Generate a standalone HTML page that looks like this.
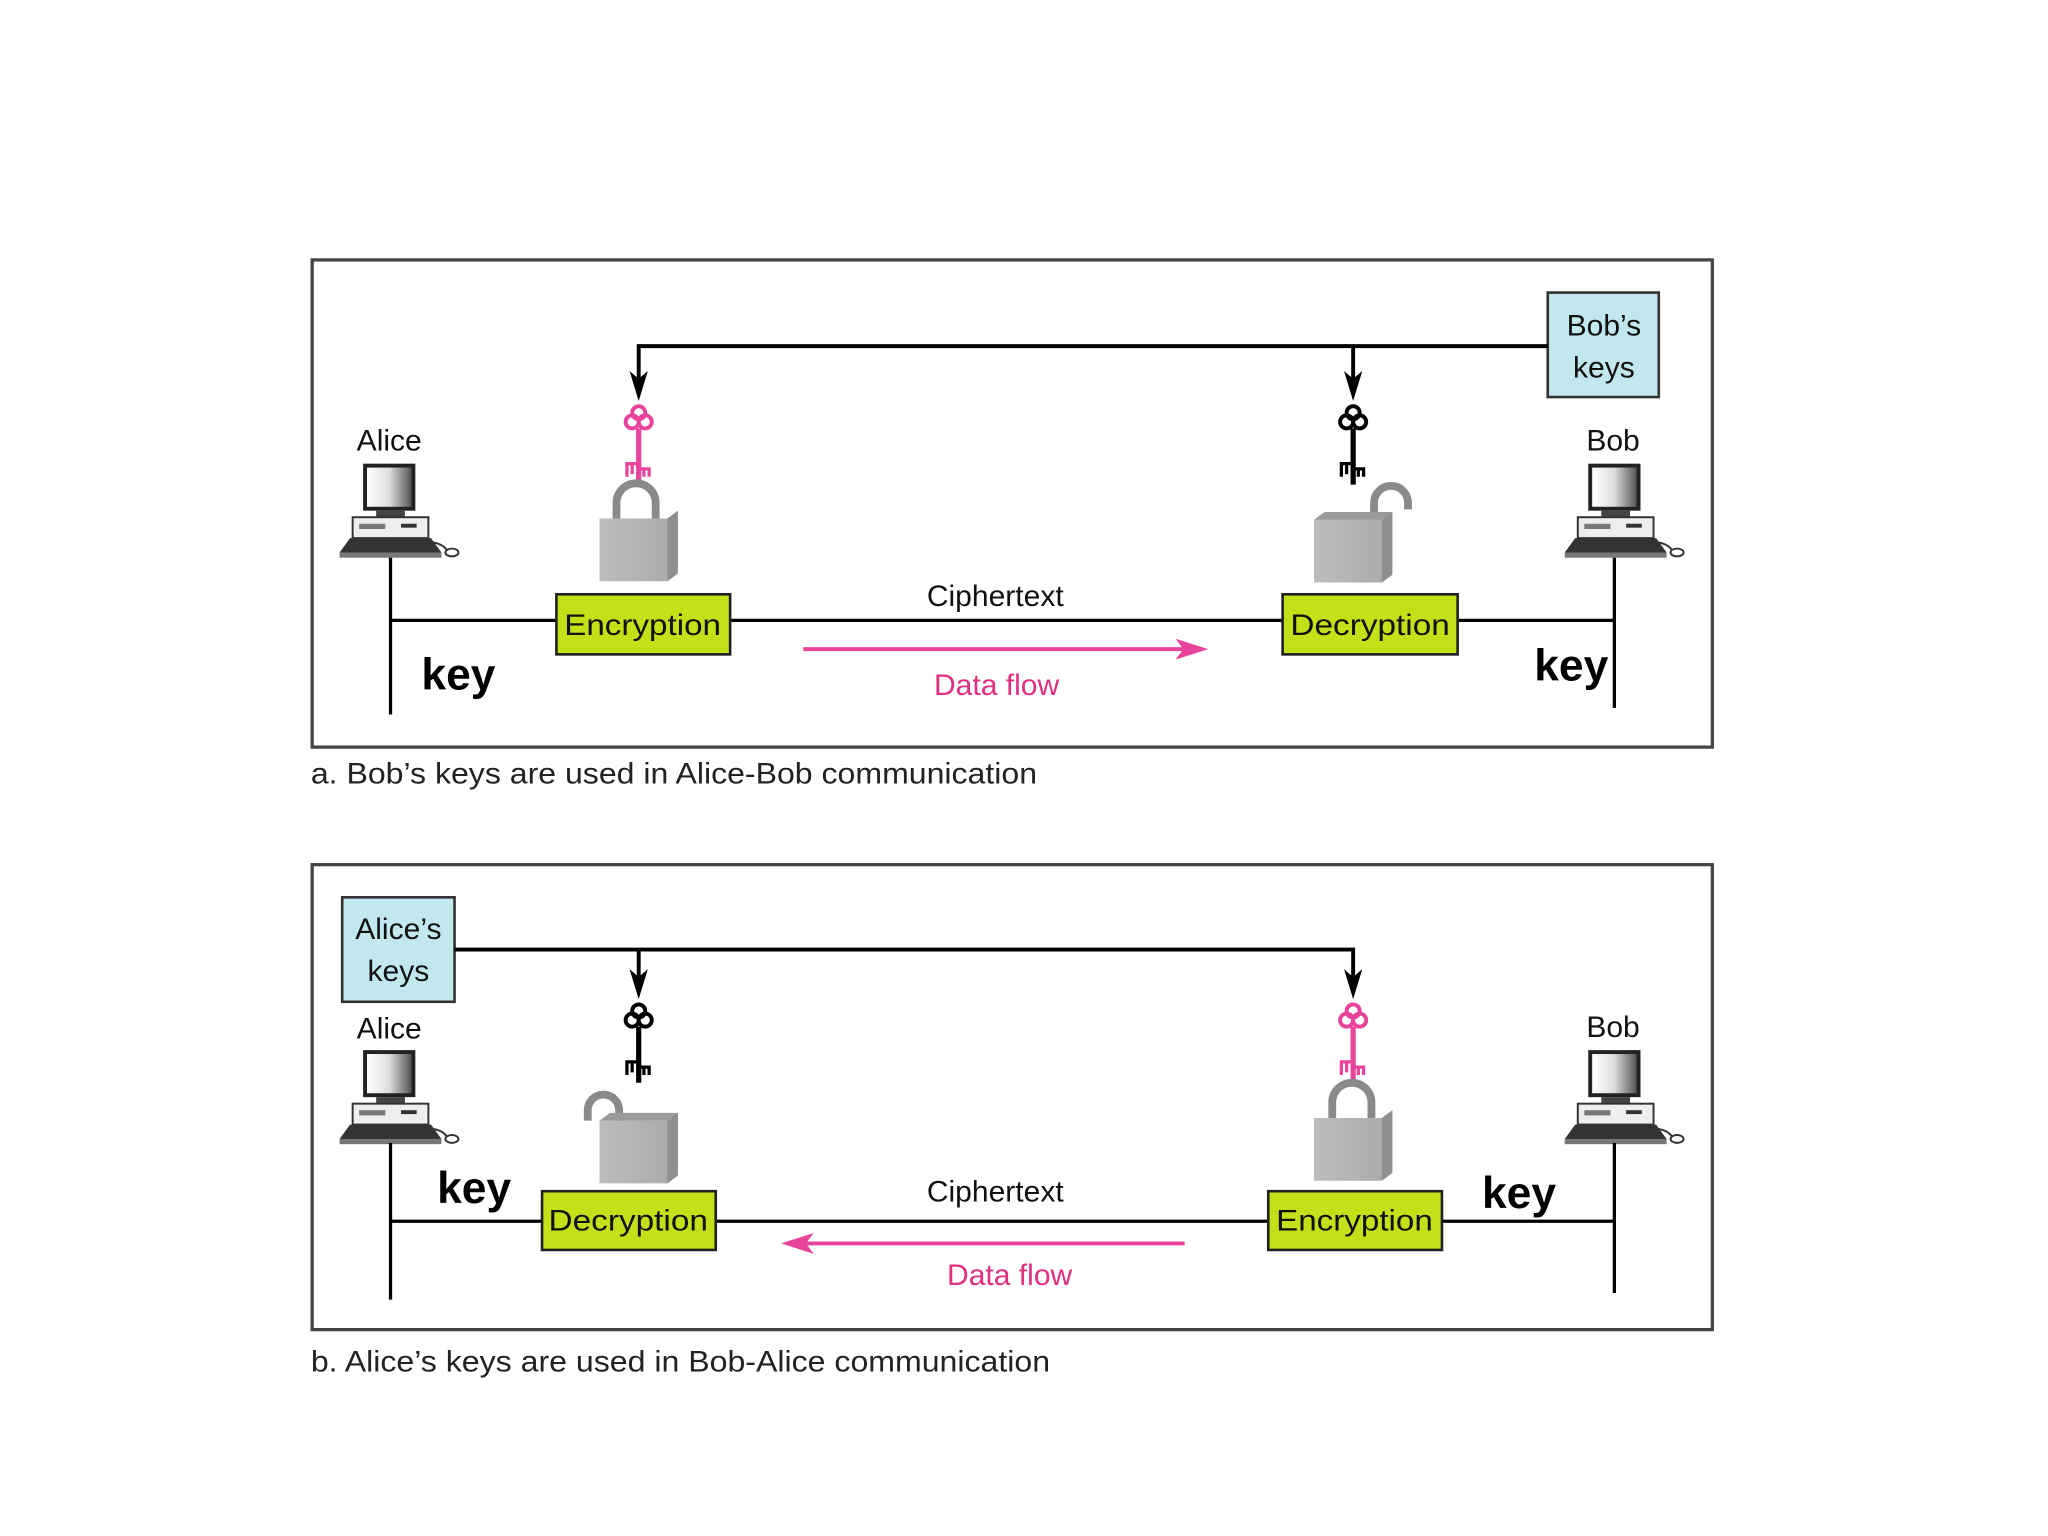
<!DOCTYPE html>
<html><head><meta charset="utf-8"><style>
html,body{margin:0;padding:0;background:#fff;}
svg{display:block;}
text{font-family:"Liberation Sans",sans-serif;}
</style></head><body>
<svg width="2048" height="1536" viewBox="0 0 1568 1176" xmlns="http://www.w3.org/2000/svg">
<defs>
<linearGradient id="scr" x1="0" x2="1" y1="0" y2="0"><stop offset="0" stop-color="#fff"/><stop offset="0.5" stop-color="#ddd"/><stop offset="1" stop-color="#555"/></linearGradient>
<g id="comp">
  <rect x="18" y="0" width="40" height="36" fill="#222"/>
  <rect x="21" y="3" width="34" height="30" fill="url(#scr)"/>
  <rect x="28" y="36" width="22" height="5" fill="#444"/>
  <rect x="10" y="41" width="58" height="16" fill="#eee" stroke="#333" stroke-width="1.5"/>
  <rect x="15" y="46" width="20" height="4" fill="#777"/>
  <rect x="47" y="46" width="12" height="3" fill="#333"/>
  <path d="M8,57 L70,57 L78,68 L0,68 Z" fill="#333"/>
  <rect x="0" y="68" width="78" height="4" fill="#777"/>
  <path d="M66,60 Q78,60 82,66" stroke="#333" fill="none" stroke-width="1.5"/>
  <ellipse cx="86" cy="68" rx="5" ry="3" fill="#fff" stroke="#333" stroke-width="1.5"/>
</g>
<g id="key">
  <circle cx="-5" cy="-20" r="5" fill="none" stroke-width="3"/>
  <circle cx="5" cy="-20" r="5" fill="none" stroke-width="3"/>
  <circle cx="0" cy="-27" r="5" fill="none" stroke-width="3"/>
  <line x1="0" y1="-15" x2="0" y2="28" stroke-width="4"/>
  <path d="M0,12 L-9,12 L-9,22 M-5,12 L-5,20 M0,16 L8,16 L8,22 M4,16 L4,22" fill="none" stroke-width="2.5"/>
</g>
<linearGradient id="lk" x1="0" x2="1"><stop offset="0" stop-color="#bdbdbd"/><stop offset="1" stop-color="#a9a9a9"/></linearGradient>
<g id="box">
  <path d="M-30,0 L22,0 L30,-6 L30,42 L22,48 L-30,48 Z" fill="url(#lk)"/>
  <path d="M22,0 L30,-6 L30,42 L22,48 Z" fill="#8f8f8f"/>
</g>
</defs>

<!-- Panel a -->
<rect x="239" y="199" width="1072" height="373" fill="none" stroke="#444" stroke-width="2.5"/>
<rect x="1185" y="224" width="85" height="80" fill="#c3e7ef" stroke="#333" stroke-width="2"/>
<text x="1228" y="257" font-size="23" text-anchor="middle" fill="#111">Bob’s</text>
<text x="1228" y="289" font-size="23" text-anchor="middle" fill="#111">keys</text>
<path d="M1185,265 L489,265 L489,300" fill="none" stroke="#000" stroke-width="3"/>
<path d="M1036,265 L1036,300" fill="none" stroke="#000" stroke-width="3"/>
<path d="M482,284 L489,307 L496,284 L489,290 Z" fill="#000"/>
<path d="M1029,284 L1036,307 L1043,284 L1036,290 Z" fill="#000"/>
<use href="#key" x="489" y="343" stroke="#e8449b"/>
<use href="#key" x="1036" y="343" stroke="#000"/>
<path d="M472,397 L472,385 A15,15 0 0 1 502,385 L502,397" fill="none" stroke="#8a8a8a" stroke-width="6"/>
<use href="#box" x="489" y="397"/>
<path d="M1052,394 L1052,385 A13,13 0 0 1 1078,385 L1078,390" fill="none" stroke="#8a8a8a" stroke-width="6"/>
<use href="#box" x="1036" y="398"/>
<path d="M1006,398 L1014,392 L1066,392 L1058,398 Z" fill="#9a9a9a"/>
<text x="298" y="345" font-size="23" text-anchor="middle" fill="#111">Alice</text>
<use href="#comp" x="260" y="355"/>
<text x="1235" y="345" font-size="23" text-anchor="middle" fill="#111">Bob</text>
<use href="#comp" x="1198" y="355"/>
<line x1="299" y1="427" x2="299" y2="547" stroke="#000" stroke-width="2.5"/>
<line x1="1236" y1="427" x2="1236" y2="542" stroke="#000" stroke-width="2.5"/>
<line x1="299" y1="475" x2="1236" y2="475" stroke="#000" stroke-width="2.5"/>
<rect x="426" y="455" width="133" height="46" fill="#c3e018" stroke="#222" stroke-width="2"/>
<text x="492" y="486" font-size="23" text-anchor="middle" fill="#111" textLength="120" lengthAdjust="spacingAndGlyphs">Encryption</text>
<rect x="982" y="455" width="134" height="46" fill="#c3e018" stroke="#222" stroke-width="2"/>
<text x="1049" y="486" font-size="23" text-anchor="middle" fill="#111" textLength="122" lengthAdjust="spacingAndGlyphs">Decryption</text>
<text x="762" y="464" font-size="23" text-anchor="middle" fill="#111">Ciphertext</text>
<line x1="615" y1="497" x2="908" y2="497" stroke="#e8449b" stroke-width="3"/>
<path d="M925,497 L900,489 L906,497 L900,505 Z" fill="#e8449b"/>
<text x="763" y="532" font-size="23" text-anchor="middle" fill="#e0307f">Data flow</text>
<text x="351" y="528" font-size="34" font-weight="bold" text-anchor="middle" fill="#000">key</text>
<text x="1203" y="521" font-size="34" font-weight="bold" text-anchor="middle" fill="#000">key</text>
<text x="238" y="600" font-size="23" fill="#222" textLength="556" lengthAdjust="spacingAndGlyphs">a. Bob’s keys are used in Alice-Bob communication</text>

<!-- Panel b -->
<rect x="239" y="662" width="1072" height="356" fill="none" stroke="#444" stroke-width="2.5"/>
<rect x="262" y="687" width="86" height="80" fill="#c3e7ef" stroke="#333" stroke-width="2"/>
<text x="305" y="719" font-size="23" text-anchor="middle" fill="#111">Alice’s</text>
<text x="305" y="751" font-size="23" text-anchor="middle" fill="#111">keys</text>
<path d="M348,727 L1036,727 L1036,758" fill="none" stroke="#000" stroke-width="3"/>
<path d="M489,727 L489,758" fill="none" stroke="#000" stroke-width="3"/>
<path d="M482,742 L489,765 L496,742 L489,748 Z" fill="#000"/>
<path d="M1029,742 L1036,765 L1043,742 L1036,748 Z" fill="#000"/>
<use href="#key" x="489" y="801" stroke="#000"/>
<use href="#key" x="1036" y="801" stroke="#e8449b"/>
<path d="M450,858 L450,850 A12,12 0 0 1 474,850 L474,860" fill="none" stroke="#8a8a8a" stroke-width="6"/>
<use href="#box" x="489" y="858"/>
<path d="M459,858 L467,852 L519,852 L511,858 Z" fill="#9a9a9a"/>
<path d="M1020,856 L1020,844 A15,15 0 0 1 1050,844 L1050,856" fill="none" stroke="#8a8a8a" stroke-width="6"/>
<use href="#box" x="1036" y="856"/>
<text x="298" y="795" font-size="23" text-anchor="middle" fill="#111">Alice</text>
<use href="#comp" x="260" y="804"/>
<text x="1235" y="794" font-size="23" text-anchor="middle" fill="#111">Bob</text>
<use href="#comp" x="1198" y="804"/>
<line x1="299" y1="875" x2="299" y2="995" stroke="#000" stroke-width="2.5"/>
<line x1="1236" y1="875" x2="1236" y2="990" stroke="#000" stroke-width="2.5"/>
<line x1="299" y1="935" x2="1236" y2="935" stroke="#000" stroke-width="2.5"/>
<rect x="415" y="912" width="133" height="45" fill="#c3e018" stroke="#222" stroke-width="2"/>
<text x="481" y="942" font-size="23" text-anchor="middle" fill="#111" textLength="122" lengthAdjust="spacingAndGlyphs">Decryption</text>
<rect x="971" y="912" width="133" height="45" fill="#c3e018" stroke="#222" stroke-width="2"/>
<text x="1037" y="942" font-size="23" text-anchor="middle" fill="#111" textLength="120" lengthAdjust="spacingAndGlyphs">Encryption</text>
<text x="762" y="920" font-size="23" text-anchor="middle" fill="#111">Ciphertext</text>
<line x1="615" y1="952" x2="907" y2="952" stroke="#e8449b" stroke-width="3"/>
<path d="M598,952 L623,944 L617,952 L623,960 Z" fill="#e8449b"/>
<text x="773" y="984" font-size="23" text-anchor="middle" fill="#e0307f">Data flow</text>
<text x="363" y="921" font-size="34" font-weight="bold" text-anchor="middle" fill="#000">key</text>
<text x="1163" y="925" font-size="34" font-weight="bold" text-anchor="middle" fill="#000">key</text>
<text x="238" y="1050" font-size="23" fill="#222" textLength="566" lengthAdjust="spacingAndGlyphs">b. Alice’s keys are used in Bob-Alice communication</text>
</svg>
</body></html>
